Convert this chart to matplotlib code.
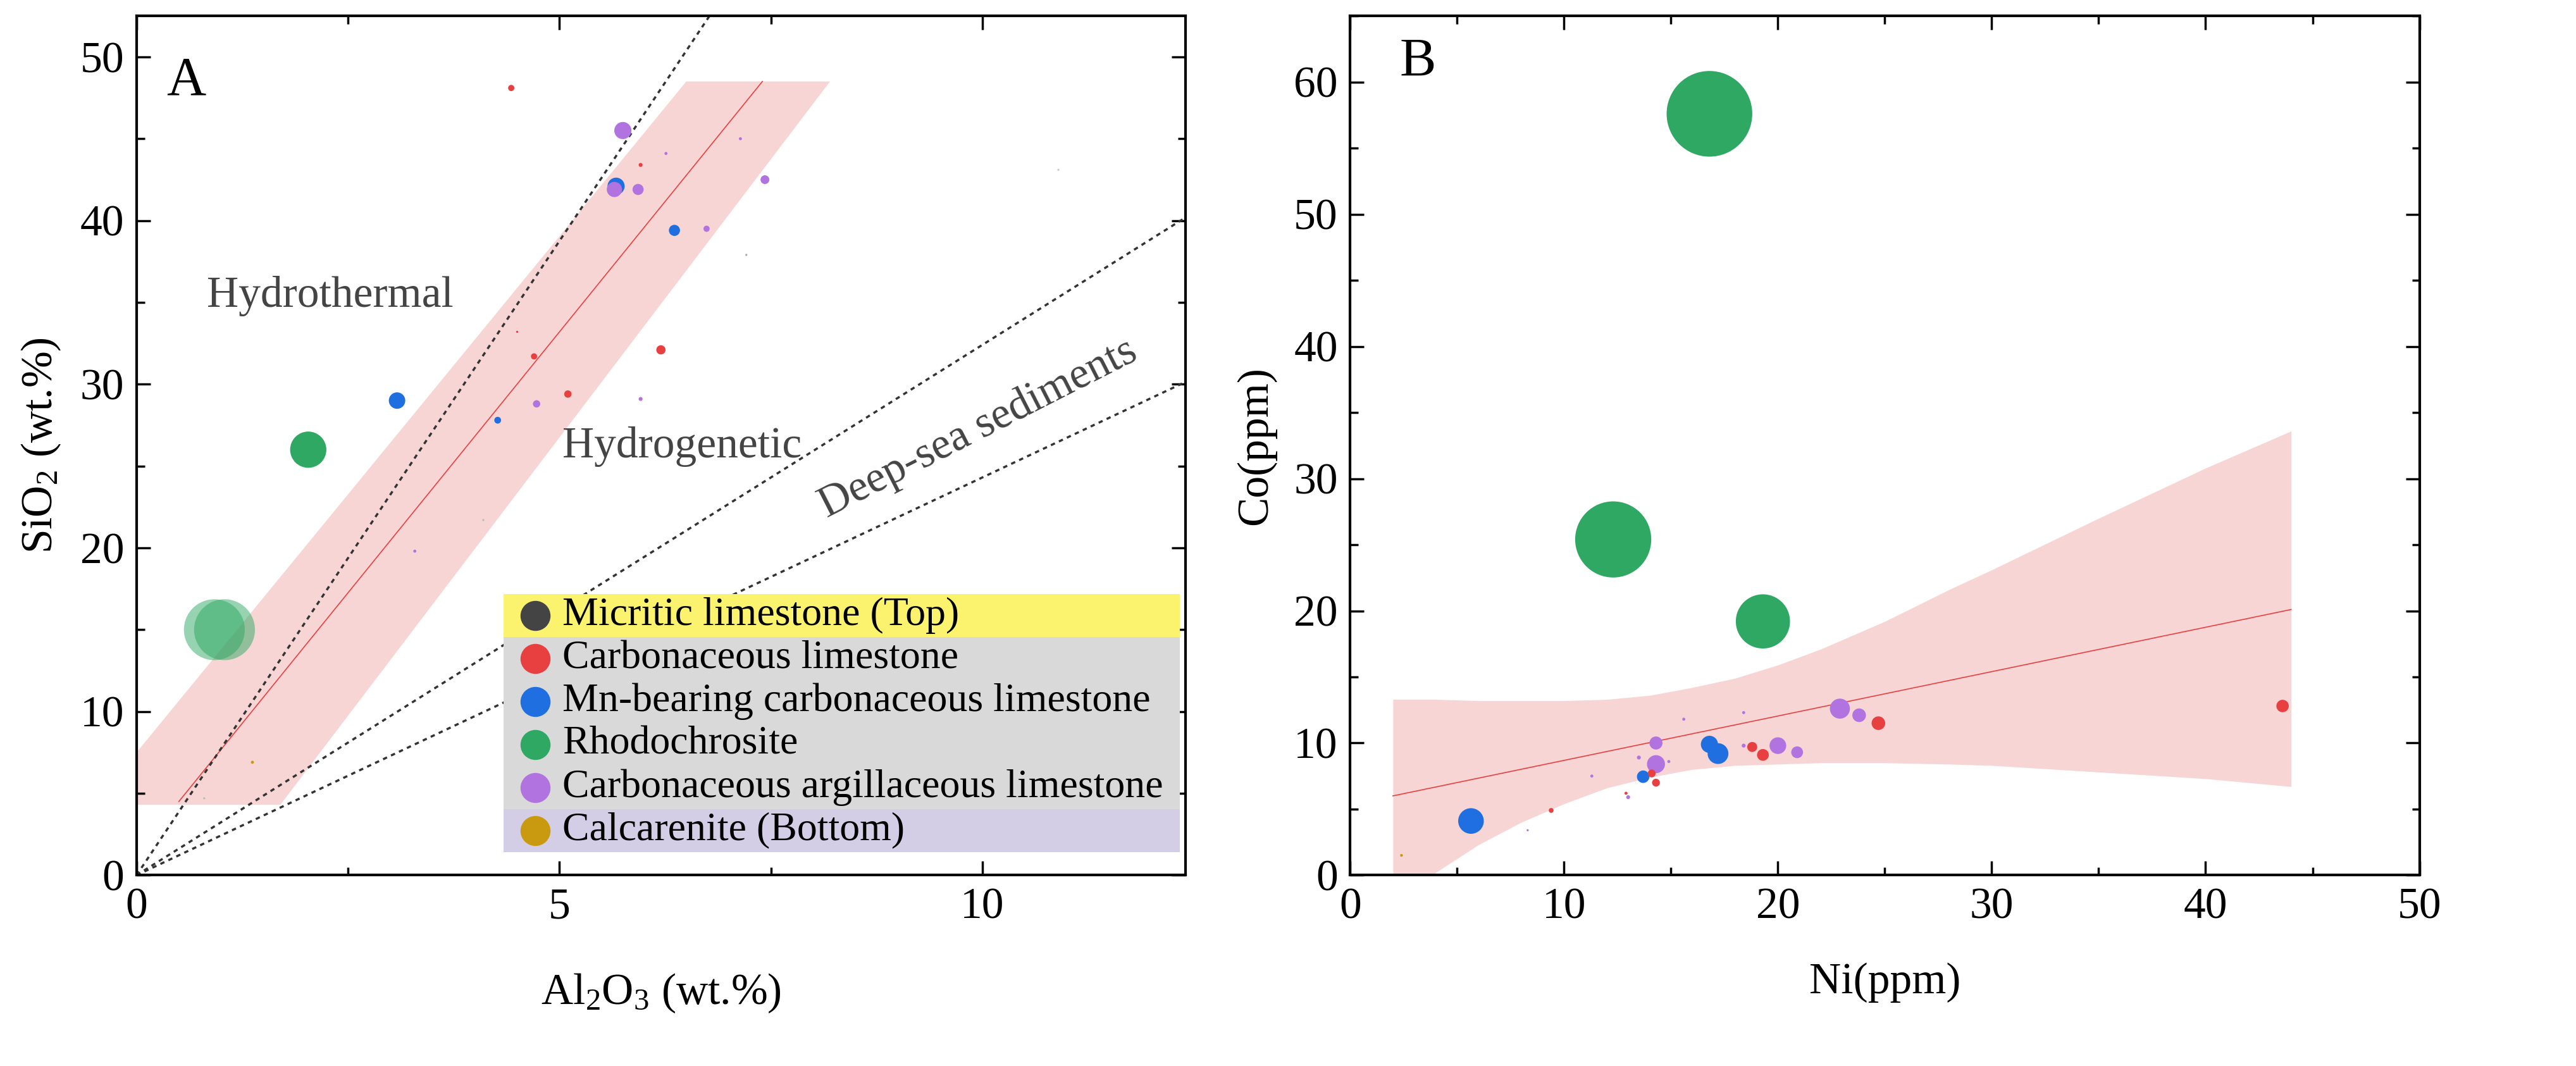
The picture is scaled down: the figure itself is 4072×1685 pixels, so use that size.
import matplotlib.pyplot as plt
from matplotlib.patches import Polygon, Rectangle
from matplotlib.ticker import MultipleLocator

plt.rcParams["font.family"] = ["Liberation Serif", "DejaVu Serif"]
plt.rcParams["mathtext.fontset"] = "custom"
plt.rcParams["mathtext.rm"] = "Liberation Serif"
plt.rcParams["mathtext.it"] = "Liberation Serif:italic"

RED, BLUE, GREEN, PURPLE, GOLD, DARK = "#e84040", "#1f6fe0", "#2ea862", "#b173e0", "#c99a10", "#444444"

# panel A: Al2O3 vs SiO2
a_x = [4.43, 5.75, 6.26, 7.14, 5.96, 5.67, 5.65, 5.93, 7.43, 6.36, 6.74, 7.21, 10.9, 4.5, 4.70, 6.2,
       5.1, 4.73, 5.96, 4.27, 3.08, 2.03, 4.1, 3.29, 1.37, 0.8]
a_y = [48.1, 45.5, 44.1, 45.0, 43.4, 42.1, 41.9, 41.9, 42.5, 39.4, 39.5, 37.9, 43.1, 33.2, 31.7, 32.1,
       29.4, 28.8, 29.1, 27.8, 29.0, 26.0, 21.7, 19.8, 6.9, 4.7]
a_c = [RED, PURPLE, PURPLE, PURPLE, RED, BLUE, PURPLE, PURPLE, PURPLE, BLUE, PURPLE, "#aaaaaa", "#cccccc", RED, RED, RED,
       RED, PURPLE, PURPLE, BLUE, BLUE, GREEN, "#bbbbbb", PURPLE, GOLD, "#bbbbbb"]
a_s = [50, 380, 12, 12, 20, 380, 300, 160, 100, 160, 50, 6, 6, 6, 50, 110,
       70, 70, 20, 60, 350, 1700, 6, 12, 12, 6]
a_light_x = [0.92, 1.04]
a_light_y = [15.0, 15.0]
a_fit = [(0.5, 4.5), (7.4, 48.5)]
a_band = [(0, 4.3), (1.7, 4.3), (8.2, 48.5), (6.5, 48.5), (0, 7.5)]
a_ref_slopes = [7.75, 3.24, 2.43]

# panel B: Ni vs Co
b_x = [16.8, 12.3, 19.3, 5.65, 16.8, 17.2, 13.7, 22.9, 23.8, 20.0, 20.9, 14.3, 14.3, 24.7, 43.6, 18.8,
       19.3, 14.1, 14.3, 9.4, 15.6, 18.4, 13.5, 14.9, 11.3, 12.9, 13.0, 18.4, 8.3, 2.4]
b_y = [57.6, 25.4, 19.2, 4.1, 9.9, 9.2, 7.45, 12.6, 12.1, 9.8, 9.3, 10.0, 8.4, 11.5, 12.8, 9.7,
       9.1, 7.7, 7.0, 4.9, 11.8, 12.3, 8.9, 8.6, 7.5, 6.2, 5.9, 9.8, 3.4, 1.5]
b_c = [GREEN, GREEN, GREEN, BLUE, BLUE, BLUE, BLUE, PURPLE, PURPLE, PURPLE, PURPLE, PURPLE, PURPLE, RED, RED, RED,
       RED, RED, RED, RED, PURPLE, PURPLE, PURPLE, PURPLE, PURPLE, RED, PURPLE, PURPLE, PURPLE, GOLD]
b_s = [9500, 7500, 3800, 850, 380, 560, 200, 520, 240, 360, 180, 220, 420, 240, 200, 130,
       180, 80, 80, 30, 12, 12, 20, 12, 12, 12, 20, 20, 6, 10]
b_fit_x = [2, 44]
b_fit_y = [6.0, 20.1]
b_band_x = [2, 4, 6, 8, 10, 12, 14, 16, 18, 20, 22, 25, 28, 30, 35, 40, 44]
b_band_up = [13.3, 13.3, 13.2, 13.2, 13.2, 13.3, 13.6, 14.2, 14.9, 15.9, 17.1, 19.2, 21.6, 23.1, 27.0, 30.8, 33.6]
b_band_lo = [-2.0, 0.2, 2.3, 4.0, 5.4, 6.6, 7.4, 8.0, 8.3, 8.4, 8.5, 8.5, 8.4, 8.3, 7.8, 7.3, 6.7]

legend_labels = ["Micritic limestone (Top)", "Carbonaceous limestone", "Mn-bearing carbonaceous limestone",
                 "Rhodochrosite", "Carbonaceous argillaceous limestone", "Calcarenite (Bottom)"]
legend_colors = [DARK, RED, BLUE, GREEN, PURPLE, GOLD]

FS = 50

fig = plt.figure(figsize=(40.73, 16.85), dpi=100)
axA = fig.add_axes([0.053, 0.179, 0.407, 0.806])
axB = fig.add_axes([0.524, 0.179, 0.415, 0.806])


def style(ax):
    ax.tick_params(which="both", direction="in", top=True, right=True, labelsize=FS, width=2.5)
    ax.tick_params(which="major", length=16, pad=14)
    ax.tick_params(which="minor", length=9)
    for s in ax.spines.values():
        s.set_linewidth(3)


# ---- panel A
axA.set_xlim(0, 12.4)
axA.set_ylim(0, 52.5)
axA.add_patch(Polygon(a_band, closed=True, facecolor="#f4b3b3", alpha=0.55, edgecolor="none", zorder=1))
axA.plot([p[0] for p in a_fit], [p[1] for p in a_fit], color=RED, lw=1.2, zorder=2)
for k in a_ref_slopes:
    axA.plot([0, 20], [0, 20 * k], ls=(0, (2, 2)), color="#333333", lw=2.5, zorder=2)
axA.scatter(a_light_x, a_light_y, s=4800, color=GREEN, alpha=0.5, edgecolors="none", zorder=3)
axA.scatter(a_x, a_y, s=a_s, c=a_c, edgecolors="none", zorder=4)
axA.text(0.35, 48.5, "A", fontsize=62, va="center")
axA.text(2.29, 35.4, "Hydrothermal", fontsize=FS, ha="center", va="center", color="#444444")
axA.text(6.45, 26.2, "Hydrogenetic", fontsize=FS, ha="center", va="center", color="#444444")
axA.text(9.95, 27.3, "Deep-sea sediments", fontsize=FS, ha="center", va="center", rotation=27, color="#444444")
axA.set_xlabel("Al$_2$O$_3$ (wt.%)", fontsize=FS, labelpad=50)
axA.set_ylabel("SiO$_2$ (wt.%)", fontsize=FS, labelpad=20)
axA.xaxis.set_major_locator(MultipleLocator(5))
axA.xaxis.set_minor_locator(MultipleLocator(2.5))
axA.yaxis.set_major_locator(MultipleLocator(10))
axA.yaxis.set_minor_locator(MultipleLocator(5))
style(axA)

# legend drawn as coloured rows
lx0, lx1, ltop, lbot = 0.35, 0.995, 0.327, 0.027
rh = (ltop - lbot) / 6
bg = ["#fbf36e"] + ["#d9d9d9"] * 4 + ["#d3cde6"]
for i, (lab, col) in enumerate(zip(legend_labels, legend_colors)):
    y0 = ltop - (i + 1) * rh
    axA.add_patch(Rectangle((lx0, y0), lx1 - lx0, rh, transform=axA.transAxes, facecolor=bg[i],
                            edgecolor="none", zorder=5))
    axA.scatter([lx0 + 0.03], [y0 + rh / 2], s=1100, color=col, transform=axA.transAxes, zorder=6)
    axA.text(lx0 + 0.056, y0 + rh / 2, lab, transform=axA.transAxes, fontsize=46, va="center", zorder=6)

# ---- panel B
axB.set_xlim(0, 50)
axB.set_ylim(0, 65)
axB.fill_between(b_band_x, b_band_lo, b_band_up, color="#f4b3b3", alpha=0.55, lw=0, zorder=1)
axB.plot(b_fit_x, b_fit_y, color=RED, lw=1.2, zorder=2)
axB.scatter(b_x, b_y, s=b_s, c=b_c, edgecolors="none", zorder=4)
axB.text(2.3, 61.5, "B", fontsize=62, va="center")
axB.set_xlabel("Ni(ppm)", fontsize=FS, labelpad=40)
axB.set_ylabel("Co(ppm)", fontsize=FS, labelpad=20)
axB.xaxis.set_major_locator(MultipleLocator(10))
axB.xaxis.set_minor_locator(MultipleLocator(5))
axB.yaxis.set_major_locator(MultipleLocator(10))
axB.yaxis.set_minor_locator(MultipleLocator(5))
style(axB)

fig.savefig("out.png", dpi=100)
